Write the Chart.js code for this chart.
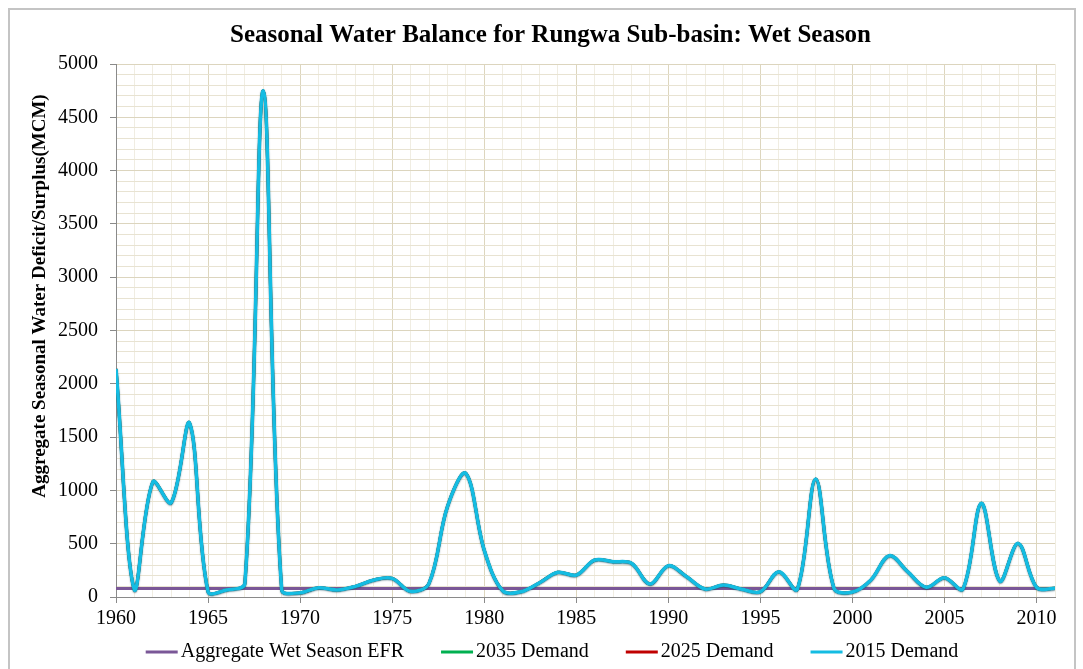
<!DOCTYPE html>
<html>
<head>
<meta charset="utf-8">
<script src="https://cdn.jsdelivr.net/npm/chart.js@4.4.1/dist/chart.umd.min.js"></script>
<style>
  body { margin: 0; background: #fff; }
  canvas { display: block; }
</style>
</head>
<body>
<canvas id="wb" width="1083" height="669"></canvas>
<script>
const years = [
    1960, 1961, 1962, 1963, 1964, 1965, 1966, 1967, 1968, 1969,
    1970, 1971, 1972, 1973, 1974, 1975, 1976, 1977, 1978, 1979,
    1980, 1981, 1982, 1983, 1984, 1985, 1986, 1987, 1988, 1989,
    1990, 1991, 1992, 1993, 1994, 1995, 1996, 1997, 1998, 1999,
    2000, 2001, 2002, 2003, 2004, 2005, 2006, 2007, 2008, 2009,
    2010, 2011
];

// wet season surplus (MCM) - the three demand scenarios plot on top of each other
const demand2015 = [
    2140, 66, 1080, 885, 1630, 50, 66, 128, 4750, 70,
    40, 87, 66, 100, 160, 175, 53, 128, 847, 1160,
    440, 59, 50, 134, 232, 206, 347, 331, 316, 122,
    294, 190, 75, 113, 72, 50, 237, 72, 1107, 81,
    47, 160, 388, 238, 91, 181, 75, 879, 150, 503,
    91, 81
];
const demand2025 = [
    2140, 66, 1080, 885, 1630, 50, 66, 128, 4750, 70,
    40, 87, 66, 100, 160, 175, 53, 128, 847, 1160,
    440, 59, 50, 134, 232, 206, 347, 331, 316, 122,
    294, 190, 75, 113, 72, 50, 237, 72, 1107, 81,
    47, 160, 388, 238, 91, 181, 75, 879, 150, 503,
    91, 81
];
const demand2035 = [
    2140, 66, 1080, 885, 1630, 50, 66, 128, 4750, 70,
    40, 87, 66, 100, 160, 175, 53, 128, 847, 1160,
    440, 59, 50, 134, 232, 206, 347, 331, 316, 122,
    294, 190, 75, 113, 72, 50, 237, 72, 1107, 81,
    47, 160, 388, 238, 91, 181, 75, 879, 150, 503,
    91, 81
];
const efrValue = 80; // aggregate wet season EFR, flat

const seriesNames = ['Aggregate Wet Season EFR', '2035 Demand', '2025 Demand', '2015 Demand'];
const yLabelMajor = 500;
const xLabelMajor = 5;

const FONT = "'Liberation Serif', 'Times New Roman', serif";


function toPoints(vals) {
    return years.map((y, i) => ({ x: y, y: vals[i] }));
}

const frame = {
    id: 'frame',
    beforeDraw(chart) {
        const c = chart.ctx;
        c.save();
        c.fillStyle = '#fff';
        c.fillRect(0, 0, chart.width, chart.height);
        c.strokeStyle = '#c4c4c4';
        c.lineWidth = 2;
        c.strokeRect(9, 9, 1066, 700);
        c.restore();
    },
    beforeDatasetDraw(chart, args) {
        // soft dark edge on the top (2015) line like the excel shadow
        chart.ctx.save();
        if (args.index === 3) {
            chart.ctx.shadowColor = 'rgba(0,60,80,0.55)';
            chart.ctx.shadowBlur = 1.5;
            chart.ctx.shadowOffsetY = 0.8;
        }
    },
    afterDatasetDraw(chart) {
        chart.ctx.restore();
    },
    afterDraw(chart) {
        const c = chart.ctx;

        // y axis title, sits a bit above the plot centre like the original
        c.save();
        c.translate(40, 296);
        c.rotate(-Math.PI / 2);
        c.font = 'bold 19px ' + FONT;
        c.fillStyle = '#000';
        c.textAlign = 'center';
        c.textBaseline = 'middle';
        c.fillText('Aggregate Seasonal Water Deficit/Surplus(MCM)', 0, 0);
        c.restore();

        // legend: short line swatch right against the text
        const sw = 32, gap = 3, spacing = 37, cy = 652;
        c.save();
        c.font = '20px ' + FONT;
        const ds = chart.data.datasets;
        const widths = ds.map(d => c.measureText(d.label).width);
        const total = widths.reduce((s, w) => s + sw + gap + w, 0) + spacing * (ds.length - 1);
        let x = 552 - total / 2;
        ds.forEach((d, i) => {
            c.strokeStyle = d.borderColor;
            c.lineWidth = 3;
            c.beginPath();
            c.moveTo(x, cy);
            c.lineTo(x + sw, cy);
            c.stroke();
            c.fillStyle = '#000';
            c.textAlign = 'left';
            c.textBaseline = 'middle';
            c.fillText(d.label, x + sw + gap, cy);
            x += sw + gap + widths[i] + spacing;
        });
        c.restore();
    }
};

const lineDs = (label, vals, color, width, order) => ({
    label,
    data: toPoints(vals),
    borderColor: color,
    backgroundColor: color,
    borderWidth: width,
    pointRadius: 0,
    tension: 0.35,
    order
});

new Chart(document.getElementById('wb'), {
    type: 'line',
    data: {
        datasets: [
            lineDs(seriesNames[0], years.map(() => efrValue), '#7A5797', 3, 3),
            lineDs(seriesNames[1], demand2035, '#00B050', 3, 2),
            lineDs(seriesNames[2], demand2025, '#C00000', 3, 1),
            lineDs(seriesNames[3], demand2015, '#14BCE2', 3.5, 0)
        ]
    },
    options: {
        responsive: false,
        animation: false,
        events: [],
        layout: { padding: { left: 18, right: 0, top: 0, bottom: 38 } },
        plugins: {
            title: {
                display: true,
                text: 'Seasonal Water Balance for Rungwa Sub-basin: Wet Season',
                color: '#000',
                font: { family: FONT, size: 25, weight: 'bold' },
                padding: { top: 21, bottom: 13 }
            },
            legend: { display: false },
            tooltip: { enabled: false }
        },
        scales: {
            x: {
                type: 'linear',
                min: 1960,
                max: 2011,
                afterFit(scale) {
                    scale.height = 34;
                    scale.paddingRight = 28;
                },
                ticks: {
                    stepSize: 1,
                    autoSkip: false,
                    maxRotation: 0,
                    padding: 4,
                    color: '#000',
                    font: { family: FONT, size: 20 },
                    callback: v => (Math.round(v) % xLabelMajor === 0 ? String(Math.round(v)) : '')
                },
                grid: {
                    tickLength: 6,
                    color: ctx => (Math.round(ctx.tick.value) % xLabelMajor === 0 ? '#DDD6BE' : '#F0EDE2'),
                    tickColor: ctx => (Math.round(ctx.tick.value) % xLabelMajor === 0 ? '#8a8a8a' : 'rgba(0,0,0,0)')
                },
                border: { color: '#8a8a8a', width: 1 }
            },
            y: {
                min: 0,
                max: 5000,
                afterFit(scale) {
                    scale.width = 98;
                },
                ticks: {
                    stepSize: 100,
                    autoSkip: false,
                    padding: 12,
                    color: '#000',
                    font: { family: FONT, size: 20 },
                    callback: v => (Math.round(v) % yLabelMajor === 0 ? String(Math.round(v)) : '')
                },
                grid: {
                    tickLength: 6,
                    color: ctx => (Math.round(ctx.tick.value) % yLabelMajor === 0 ? '#DCD5BE' : '#E8E3D2'),
                    tickColor: ctx => (Math.round(ctx.tick.value) % yLabelMajor === 0 ? '#8a8a8a' : 'rgba(0,0,0,0)')
                },
                border: { color: '#8a8a8a', width: 1 }
            }
        }
    },
    plugins: [frame]
});
</script>
</body>
</html>
